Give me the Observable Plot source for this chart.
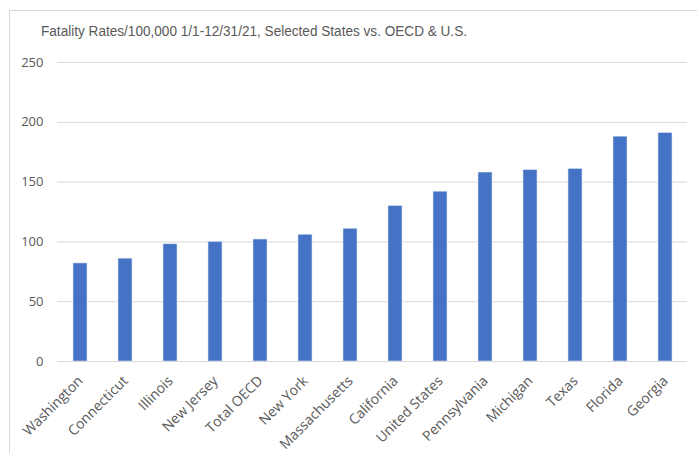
<!DOCTYPE html>
<html>
<head>
<meta charset="utf-8">
<script src="https://cdn.jsdelivr.net/npm/d3@7"></script>
<script src="https://cdn.jsdelivr.net/npm/@observablehq/plot@0.6"></script>
<style>
  html, body { margin: 0; padding: 0; background: #fff; overflow: hidden; width: 697px; height: 453px; }
  #wrap { position: relative; width: 697px; height: 453px; }
  #frame { position: absolute; left: 9px; top: 10px; width: 800px; height: 600px; border: 1px solid #d9d9d9; box-sizing: border-box; }
  #title { position: absolute; left: 0; top: 0; width: 697px; height: 50px; }
  #chart { position: absolute; left: 0; top: 50px; }
</style>
</head>
<body>
<div id="wrap">
  <div id="frame"></div>
  <svg id="title" width="697" height="50">
    <text x="41" y="36" fill="#595959" font-family="'Liberation Sans Narrow', 'Arial Narrow', 'Liberation Sans', sans-serif" font-size="14" textLength="426" lengthAdjust="spacingAndGlyphs">Fatality Rates/100,000 1/1-12/31/21, Selected States vs. OECD &amp; U.S.</text>
  </svg>
  <div id="chart"></div>
</div>
<script>
const categories = ["Washington", "Connecticut", "Illinois", "New Jersey", "Total OECD", "New York", "Massachusetts", "California", "United States", "Pennsylvania", "Michigan", "Texas", "Florida", "Georgia"];
const values = [82, 86, 98, 100, 102, 106, 111, 130, 142, 158, 160, 161, 188, 191];
const yTicks = [0, 50, 100, 150, 200, 250];

const data = categories.map((c, i) => ({category: c, value: values[i]}));

const plot = Plot.plot({
  width: 697,
  height: 403,
  marginTop: 12,
  marginBottom: 92,
  marginLeft: 57,
  marginRight: 10,
  style: {fontFamily: "'Open Sans', sans-serif", fontSize: "13px", color: "#595959", background: "transparent"},
  x: {domain: categories, paddingInner: 0.69, paddingOuter: 0.345, label: null},
  y: {domain: [0, 250], label: null},
  marks: [
    Plot.gridY(yTicks, {stroke: "#d9d9d9", strokeOpacity: 1, strokeWidth: 1}),
    Plot.barY(data, {x: "category", y: "value", fill: "#4472C4", stroke: "#dae3f3", strokeWidth: 0.6}),
    Plot.ruleY([0], {stroke: "#d9d9d9", strokeWidth: 1}),
    Plot.axisY(yTicks, {tickSize: 0, tickPadding: 14, fill: "#595959", fontSize: 13, label: null}),
    Plot.axisX({tickSize: 0, tickRotate: -45, tickPadding: 17, dx: 0, fill: "#595959", fontSize: 14, label: null})
  ]
});
document.getElementById("chart").appendChild(plot);
</script>
</body>
</html>
